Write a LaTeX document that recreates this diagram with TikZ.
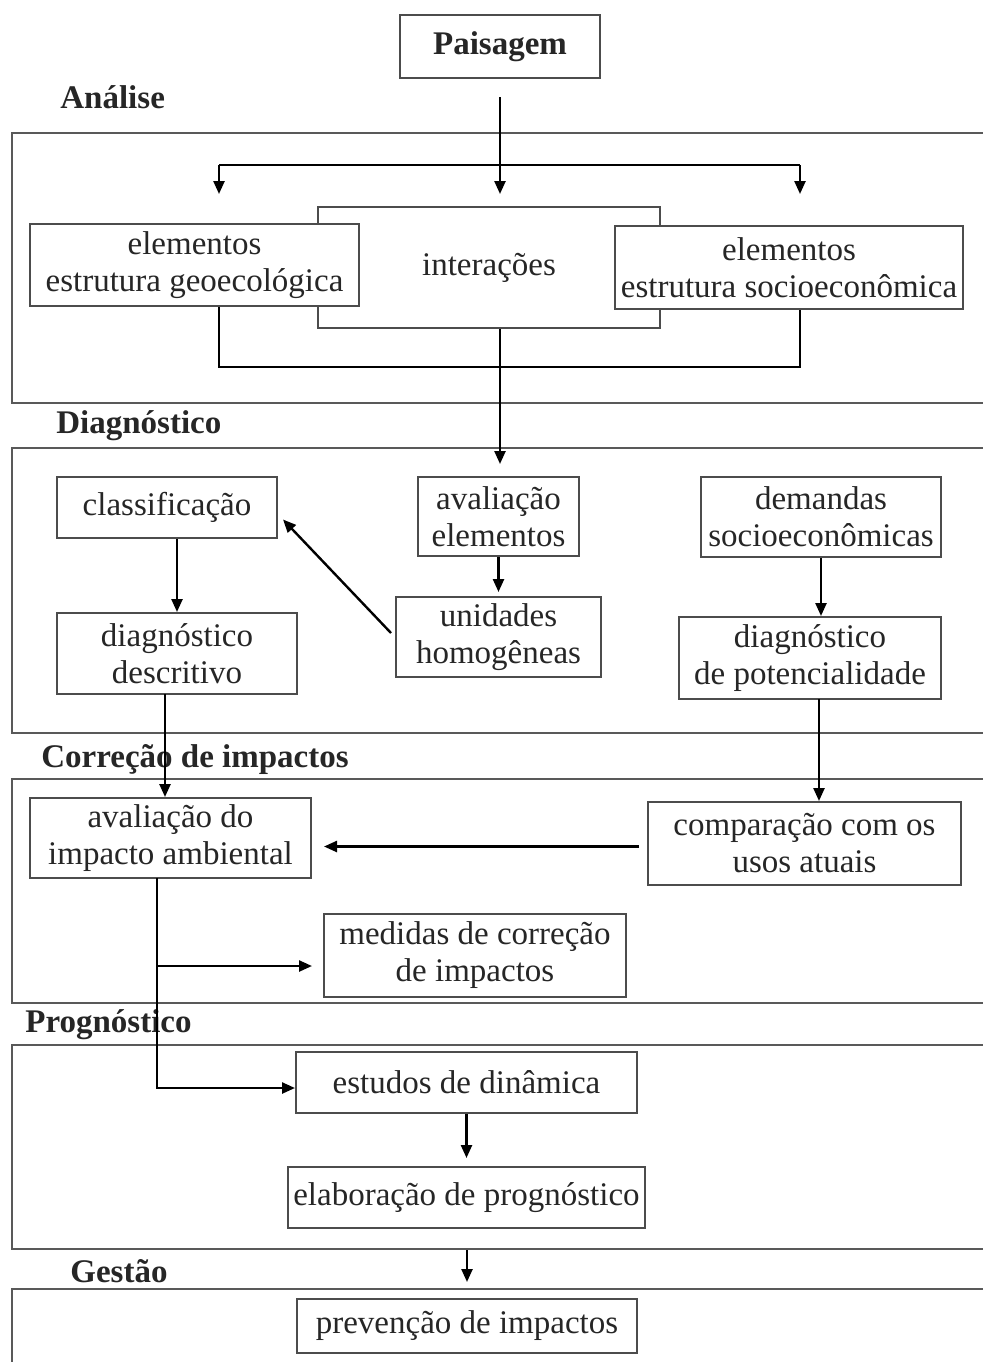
\documentclass[tikz,border=0pt]{standalone}
\usepackage{fontspec}
\setmainfont{Liberation Serif}
\usetikzlibrary{arrows.meta,calc}

\begin{document}
\begin{tikzpicture}[x=0.5pt,y=-0.5pt,
  every node/.style={font=\fontsize{16.5}{18.5}\selectfont, text=black!85},
  box/.style={draw=black!70, line width=1pt, fill=white, align=center, inner sep=0pt},
  band/.style={draw=black!65, line width=1pt},
  stage/.style={anchor=base west, inner sep=0pt, font=\fontsize{16.5}{18.5}\selectfont\bfseries},
  arr/.style={draw=black, line width=1.2pt, -{Triangle[width=5.5pt,length=6.5pt]}},
  plain/.style={draw=black, line width=1.2pt}
]
\useasboundingbox (0,0) rectangle (983,1362);

% stage bands (open on the right)
\draw[band] (983,133) -| (12,403) -- (983,403);
\draw[band] (983,448) -| (12,733) -- (983,733);
\draw[band] (983,779) -| (12,1003) -- (983,1003);
\draw[band] (983,1045) -| (12,1249) -- (983,1249);
\draw[band] (983,1289) -| (12,1362);

% stage titles
\node[stage] (tAnalise) at (60,108) {Análise};
\node[stage] (tDiag) at (56,433) {Diagnóstico};
\node[stage] (tCorr) at (41,767) {Correção de impactos};
\node[stage] (tProg) at (25,1032) {Prognóstico};
\node[stage] (tGest) at (70,1282) {Gestão};

% boxes
\node[box, minimum width=100pt, minimum height=31.5pt, font=\fontsize{16.5}{18.5}\selectfont\bfseries] (pais) at (500,46.5) {Paisagem};
\node[box, minimum width=171pt, minimum height=60.5pt] (inter) at (489,267.5) {interações};
\node[box, minimum width=164.5pt, minimum height=41pt] (geo) at (194.5,265) {elementos\\estrutura geoecológica};
\node[box, minimum width=174pt, minimum height=41.5pt] (soc) at (789,267.5) {elementos\\estrutura socioeconômica};

\node[box, minimum width=110pt, minimum height=30.5pt] (class) at (167,507.5) {classificação};
\node[box, minimum width=120pt, minimum height=40.5pt] (descr) at (177,653.5) {diagnóstico\\descritivo};
\node[box, minimum width=80.5pt, minimum height=39.5pt] (aval) at (498.5,516.5) {avaliação\\elementos};
\node[box, minimum width=102.5pt, minimum height=40pt] (unid) at (498.5,637) {unidades\\homogêneas};
\node[box, minimum width=120pt, minimum height=40pt] (dem) at (821,517) {demandas\\socioeconômicas};
\node[box, minimum width=131pt, minimum height=41pt] (pot) at (810,658) {diagnóstico\\de potencialidade};

\node[box, minimum width=140.5pt, minimum height=40pt] (impacto) at (170.5,838) {avaliação do\\impacto ambiental};
\node[box, minimum width=156.5pt, minimum height=41.5pt] (comp) at (804.5,843.5) {comparação com os\\usos atuais};
\node[box, minimum width=151pt, minimum height=41.5pt] (medidas) at (475,955.5) {medidas de correção\\de impactos};

\node[box, minimum width=170.5pt, minimum height=30.5pt] (estudos) at (466.5,1082.5) {estudos de dinâmica};
\node[box, minimum width=178.5pt, minimum height=30.5pt] (elab) at (466.5,1197.5) {elaboração de prognóstico};

\node[box, minimum width=170pt, minimum height=27pt] (prev) at (467,1326) {prevenção de impactos};

% analysis: split into the three components, then regroup
\coordinate (top) at (500,97);
\coordinate (bl) at (219,165);
\coordinate (br) at (800,165);
\draw[arr, shorten >=6pt] (top) -- (top |- inter.north);
\draw[plain] (bl) -- (br);
\draw[arr, shorten >=14.5pt] (bl) -- (bl |- geo.north);
\draw[arr, shorten >=15.5pt] (br) -- (br |- soc.north);
\draw[plain] (bl |- geo.south) -- ++(0,60) -| (br |- soc.south);
\draw[arr, shorten >=6pt] (top |- inter.south) -- (top |- aval.north);

% diagnosis
\draw[arr] (descr.north |- class.south) -- (descr.north);
\draw[arr, shorten >=2pt] (aval.south) -- (unid.north);
\draw[arr] ($(unid.west)+(-4,-4)$) -- ($(class.east)+(5,12)$);
\draw[arr] (dem.south) -- (dem.south |- pot.north);

% impact correction
\coordinate (dl) at (165,694);
\coordinate (dr) at (819,699);
\draw[arr] (dl) -- (dl |- impacto.north);
\draw[arr] (dr) -- (dr |- comp.north);
\draw[arr, shorten <=4pt, shorten >=6pt] ([yshift=-1.5pt]comp.west) -- ([yshift=-1.5pt]comp.west -| impacto.east);

\coordinate (spine) at (157,878);
\coordinate (fork) at (157,966);
\draw[arr] (spine) |- ([yshift=-2.75pt]estudos.west);
\draw[arr, shorten >=5.5pt] (fork) -- (fork -| medidas.west);

% prognosis and management
\draw[arr, shorten >=4pt] (estudos.south) -- (elab.north);
\coordinate (gtop) at (467,1250);
\draw[arr, shorten >=8pt] (gtop) -- (gtop |- prev.north);
\end{tikzpicture}
\end{document}
